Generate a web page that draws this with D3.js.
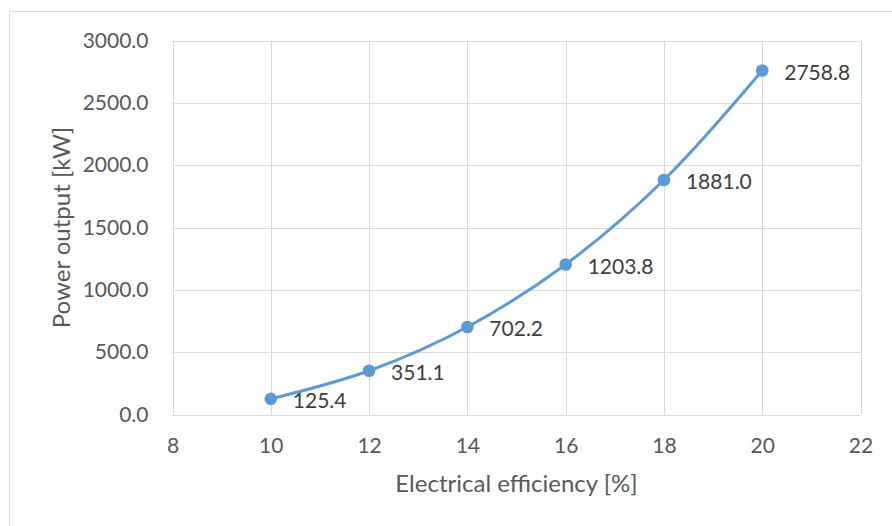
<!DOCTYPE html>
<html>
<head>
<meta charset="utf-8">
<script src="https://cdn.jsdelivr.net/npm/d3@7"></script>
<style>
  html, body { margin: 0; padding: 0; background: #fff; }
  svg { display: block; }
  text { font-family: Lato, "Open Sans", sans-serif; }
</style>
</head>
<body>
<script>
// Electrical efficiency [%] vs power output [kW]
const efficiency = [10, 12, 14, 16, 18, 20];
const powerOutput = [125.4, 351.1, 702.2, 1203.8, 1881.0, 2758.8];
const xTicks = [8, 10, 12, 14, 16, 18, 20, 22];
const yTicks = [0, 500, 1000, 1500, 2000, 2500, 3000];

const W = 892, H = 526;
const plot = { left: 172.5, right: 860.5, top: 40.5, bottom: 414.5 };
const tickFont = "21px", titleFont = "24px";

const svg = d3.select("body").append("svg").attr("width", W).attr("height", H);

// chart frame
svg.append("rect")
  .attr("x", 9.5).attr("y", 11.5)
  .attr("width", W + 20).attr("height", H + 20)
  .attr("fill", "none").attr("stroke", "#d9d9d9").attr("stroke-width", 1);

const x = d3.scaleLinear().domain([8, 22]).range([plot.left, plot.right]);
const y = d3.scaleLinear().domain([0, 3000]).range([plot.bottom, plot.top]);

// gridlines
const grid = svg.append("g").attr("stroke", "#d9d9d9").attr("stroke-width", 1);
grid.selectAll("line.v").data(xTicks).join("line")
  .attr("x1", d => Math.round(x(d)) + 0.5).attr("x2", d => Math.round(x(d)) + 0.5)
  .attr("y1", plot.top).attr("y2", plot.bottom);
grid.selectAll("line.h").data(yTicks).join("line")
  .attr("y1", d => Math.round(y(d)) + 0.5).attr("y2", d => Math.round(y(d)) + 0.5)
  .attr("x1", plot.left).attr("x2", plot.right);

// axes (labels only; lines are the gridlines)
const xAxis = svg.append("g")
  .attr("transform", `translate(0,${plot.bottom})`)
  .call(d3.axisBottom(x).tickValues(xTicks).tickSize(0).tickPadding(24).tickFormat(d3.format("d")));
const yAxis = svg.append("g")
  .attr("transform", `translate(${plot.left},0)`)
  .call(d3.axisLeft(y).tickValues(yTicks).tickSize(0).tickPadding(24).tickFormat(d3.format(".1f")));
[xAxis, yAxis].forEach(a => {
  a.select(".domain").remove();
  a.selectAll("text").attr("fill", "#595959").style("font-size", tickFont).style("font-family", "Lato, 'Open Sans', sans-serif");
});

// axis titles
svg.append("text")
  .attr("x", (plot.left + plot.right) / 2).attr("y", 492)
  .attr("text-anchor", "middle").attr("fill", "#595959")
  .style("font-size", titleFont)
  .text("Electrical efficiency [%]");
svg.append("text")
  .attr("transform", `translate(70,${(plot.top + plot.bottom) / 2}) rotate(-90)`)
  .attr("text-anchor", "middle").attr("fill", "#595959")
  .style("font-size", titleFont)
  .text("Power output [kW]");

const data = efficiency.map((e, i) => ({ e, p: powerOutput[i] }));

// smoothed series line
const line = d3.line().x(d => x(d.e)).y(d => y(d.p)).curve(d3.curveCatmullRom.alpha(0.5));
svg.append("path").datum(data)
  .attr("d", line).attr("fill", "none")
  .attr("stroke", "#5b9bd5").attr("stroke-width", 3).attr("stroke-linecap", "round");

// markers
svg.selectAll("circle.pt").data(data).join("circle")
  .attr("cx", d => x(d.e)).attr("cy", d => y(d.p)).attr("r", 6.3)
  .attr("fill", "#5b9bd5");

// data labels
svg.selectAll("text.lbl").data(data).join("text")
  .attr("x", d => x(d.e) + 22).attr("y", d => y(d.p) + 2)
  .attr("dy", "0.35em").attr("fill", "#404040")
  .style("font-size", tickFont)
  .text(d => d3.format(".1f")(d.p));
</script>
</body>
</html>
